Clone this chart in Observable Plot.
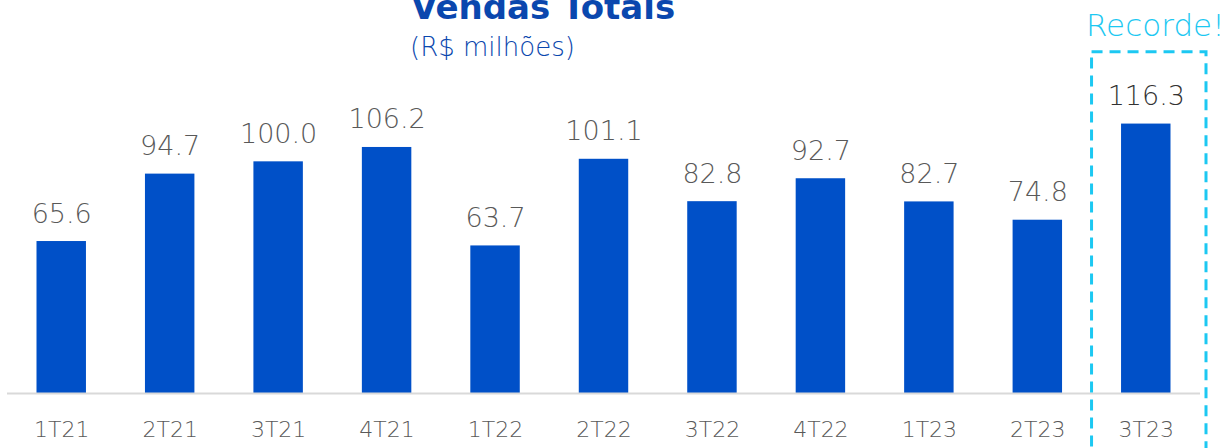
<!DOCTYPE html>
<html>
<head>
<meta charset="utf-8">
<script src="https://cdn.jsdelivr.net/npm/d3@7"></script>
<script src="https://cdn.jsdelivr.net/npm/@observablehq/plot@0.6"></script>
<style>
  html, body { margin: 0; padding: 0; background: #fff; overflow: hidden; }
  #wrap { position: relative; width: 1224px; height: 448px; }
  .title { position: absolute; left: 411px; top: -10px; font: bold 34px/34px "DejaVu Sans", sans-serif; color: #0a47ae; white-space: nowrap; }
  .subtitle { position: absolute; left: 410px; top: 34px; font: 300 26px/26px "DejaVu Sans", sans-serif; color: #0a47ae; white-space: nowrap; }
</style>
</head>
<body>
<div id="wrap">
  <div class="title">Vendas Totais</div>
  <div class="subtitle">(R$ milhões)</div>
  <div id="chart"></div>
</div>
<script>
const quarters = ["1T21","2T21","3T21","4T21","1T22","2T22","3T22","4T22","1T23","2T23","3T23"];
const sales = [65.6, 94.7, 100.0, 106.2, 63.7, 101.1, 82.8, 92.7, 82.7, 74.8, 116.3];
const highlight = ["3T23"];
const highlightLabel = ["Recorde!"];

const data = quarters.map((q, i) => ({q, v: sales[i]}));

const chart = Plot.plot({
  width: 1224,
  height: 448,
  marginLeft: 7,
  marginRight: 24,
  marginTop: 115,
  marginBottom: 55,
  style: {fontFamily: "DejaVu Sans, sans-serif", color: "#595959", background: "transparent"},
  x: {domain: quarters, paddingInner: 0.544, paddingOuter: 0.272, round: false, axis: null},
  y: {domain: [0, 120], axis: null},
  marks: [
    Plot.barY(data, {x: "q", y: "v", fill: "#0050c8"}),
    Plot.ruleY([0], {stroke: "#d9d9d9", strokeWidth: 2}),
    Plot.axisX({tickSize: 0, tickPadding: 28, fontSize: 22, fontWeight: 300, fill: "#595959", label: null}),
    Plot.text(data, {
      x: "q", y: "v",
      text: d => d.v.toFixed(1),
      lineAnchor: "bottom", dy: -19, fontSize: 27, fontWeight: 300,
      fill: d => highlight.includes(d.q) ? "#333333" : "#595959"
    }),
    Plot.barY(highlight, {
      x: d => d, y1: -40, y2: 147.3,
      fill: "none", stroke: "#1cc8f2", strokeWidth: 3, strokeDasharray: "11,7",
      insetLeft: -29.5, insetRight: -35.5
    }),
    Plot.text(highlight, {
      x: d => d, y: 154.3, text: (d, i) => highlightLabel[i],
      lineAnchor: "bottom", dx: 9, fontSize: 31, fontWeight: 300, fill: "#1cc8f2"
    })
  ]
});
document.getElementById("chart").appendChild(chart);
</script>
</body>
</html>
